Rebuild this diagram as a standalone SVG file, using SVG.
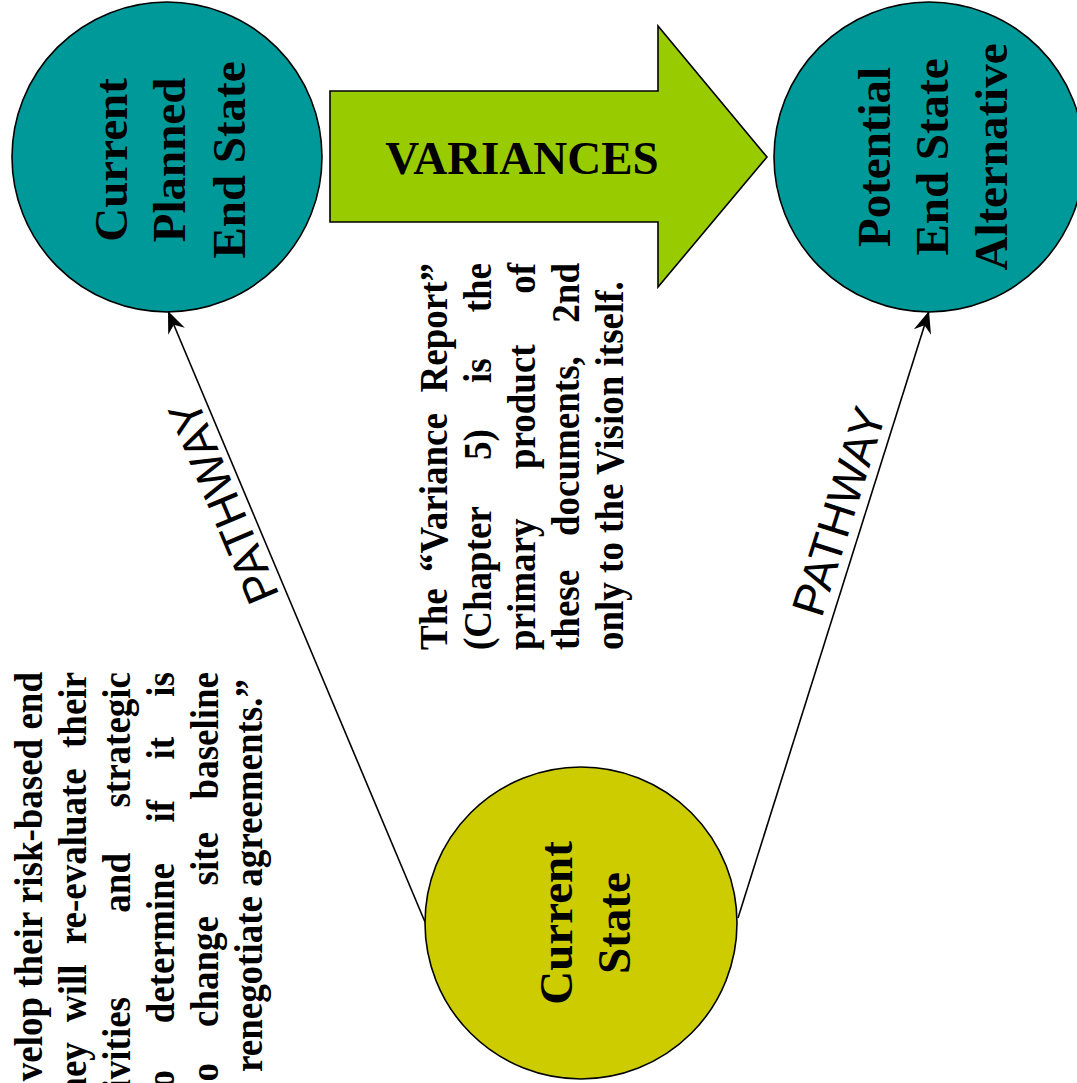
<svg xmlns="http://www.w3.org/2000/svg" width="1077" height="1083" viewBox="0 0 1077 1083">
<style>
.node{stroke:#000;stroke-width:1.6}
.teal{fill:#009999}
.yellow{fill:#CCCC00}
.big{font-family:"Liberation Serif","Times New Roman",serif;font-weight:bold;font-size:47px;fill:#000}
.body{font-family:"Liberation Serif","Times New Roman",serif;font-weight:bold;font-size:37px;fill:#000}
.path{font-family:"Liberation Sans",Arial,sans-serif;font-size:46px;fill:#000}
.conn{stroke:#000;stroke-width:1.6;fill:none;marker-end:url(#ah)}
</style>
<defs>
<marker id="ah" markerUnits="userSpaceOnUse" viewBox="-24 -12 26 24" refX="0" refY="0" markerWidth="26" markerHeight="24" orient="auto">
<path d="M0,0 L-22,-9 L-15,0 L-22,9 Z" fill="#000"/>
</marker>
</defs>
<rect width="1077" height="1083" fill="#fff"/>

<g id="connectors">
<line class="conn" x1="425" y1="922" x2="168" y2="311"/>
<line class="conn" x1="738" y1="918" x2="929" y2="311"/>
</g>

<g id="label-pathway-left">
<text class="path" text-anchor="middle" transform="translate(238,496) rotate(-112.8)">PATHWAY</text>
</g>
<g id="label-pathway-right">
<text class="path" text-anchor="middle" transform="translate(854,516) rotate(-72.5)">PATHWAY</text>
</g>

<g id="node-variances">
<polygon class="node" fill="#99CC00" points="330,91 658,91 658,26 767,157 658,287 658,222 330,222"/>
<text class="big" x="522" y="174" text-anchor="middle" font-size="48">VARIANCES</text>
</g>

<g id="node-current-planned">
<circle class="node teal" cx="167" cy="157" r="155"/>
<g transform="translate(167,160) rotate(-90)">
<text class="big" x="0" y="-40" text-anchor="middle">Current</text>
<text class="big" x="0" y="18" text-anchor="middle">Planned</text>
<text class="big" x="0" y="78" text-anchor="middle">End State</text>
</g>
</g>

<g id="node-potential">
<circle class="node teal" cx="929" cy="157" r="155"/>
<g transform="translate(929,157) rotate(-90)">
<text class="big" x="0" y="-39" text-anchor="middle">Potential</text>
<text class="big" x="0" y="19" text-anchor="middle">End State</text>
<text class="big" x="0" y="78" text-anchor="middle">Alternative</text>
</g>
</g>

<g id="node-current-state">
<circle class="node yellow" cx="581" cy="923" r="156"/>
<g transform="translate(581,923) rotate(-90)">
<text class="big" x="0" y="-9" text-anchor="middle">Current</text>
<text class="big" x="0" y="49" text-anchor="middle">State</text>
</g>
</g>

<g id="text-variance-report" transform="translate(0,650) rotate(-90) scale(1,1.07)">
<text class="body" x="0" y="417.8">The</text>
<text class="body" x="78" y="417.8">“Variance</text>
<text class="body" x="387" y="417.8" text-anchor="end">Report”</text>
<text class="body" x="0" y="458.9">(Chapter</text>
<text class="body" x="190" y="458.9">5)</text>
<text class="body" x="267" y="458.9">is</text>
<text class="body" x="387" y="458.9" text-anchor="end">the</text>
<text class="body" x="0" y="500">primary</text>
<text class="body" x="181" y="500">product</text>
<text class="body" x="387" y="500" text-anchor="end">of</text>
<text class="body" x="0" y="541.1">these</text>
<text class="body" x="114" y="541.1">documents,</text>
<text class="body" x="387" y="541.1" text-anchor="end">2nd</text>
<text class="body" x="0" y="582.2">only to the Vision itself.</text>
</g>

<g id="text-left-block" transform="translate(0,1082) rotate(-90) scale(1,1.07)">
<text class="body" x="410" y="39.3" text-anchor="end">velop their risk-based end</text>
<text class="body" x="410" y="80.4" text-anchor="end" word-spacing="11">hey will re-evaluate their</text>
<text class="body" x="410" y="121.5" text-anchor="end">strategic</text>
<text class="body" x="229" y="121.5" text-anchor="end">and</text>
<text class="body" x="85" y="121.5" text-anchor="end">ivities</text>
<text class="body" x="410" y="162.6" text-anchor="end">is</text>
<text class="body" x="345" y="162.6" text-anchor="end">it</text>
<text class="body" x="282" y="162.6" text-anchor="end">if</text>
<text class="body" x="219" y="162.6" text-anchor="end">determine</text>
<text class="body" x="12" y="162.6" text-anchor="end">o</text>
<text class="body" x="410" y="203.7" text-anchor="end">baseline</text>
<text class="body" x="250" y="203.7" text-anchor="end">site</text>
<text class="body" x="166" y="203.7" text-anchor="end">change</text>
<text class="body" x="19" y="203.7" text-anchor="end">o</text>
<text class="body" x="10" y="244.9">renegotiate agreements.”</text>
</g>
</svg>
